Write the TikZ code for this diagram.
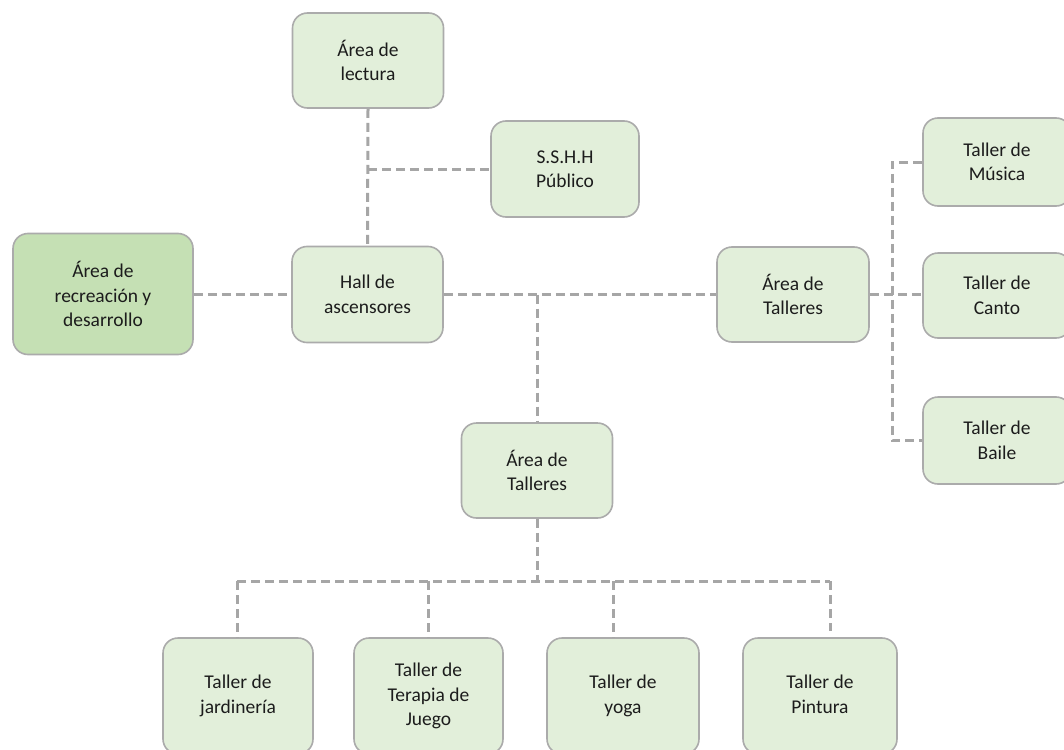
\documentclass[tikz,border=0pt]{standalone}
\usepackage{fontspec}
\setmainfont{Carlito}
\begin{document}
\begin{tikzpicture}[x=1pt,y=-1pt,
  box/.style={draw=boxline,line width=1.6pt,fill=boxfill,rounded corners=15pt,
    inner sep=0pt,align=center,text=txt,
    font=\fontsize{19.5}{24.5}\selectfont},
  hibox/.style={box,fill=boxfilldark},
  link/.style={draw=linkgray,line width=3pt,dash pattern=on 9pt off 5pt}]
\definecolor{boxfill}{HTML}{E2EFDA}
\definecolor{boxfilldark}{HTML}{C5E0B4}
\definecolor{boxline}{HTML}{ABABAB}
\definecolor{linkgray}{HTML}{A6A6A6}
\definecolor{txt}{HTML}{1C1C1C}
\path[use as bounding box,clip] (0,0) rectangle (1064,749);
\fill[white] (0,0) rectangle (1064,749);

% upper part
\node[box,minimum width=151pt,minimum height=95pt] (lectura) at (368,60.5) {Área de\\lectura};
\node[box,minimum width=148pt,minimum height=96pt] (sshh) at (565,169) {S.S.H.H\\Público};
\node[box,minimum width=151pt,minimum height=96pt] (hall) at (367.5,294.5) {Hall de\\ascensores};
\node[hibox,minimum width=180pt,minimum height=121pt] (recre) at (103,294) {Área de\\recreación y\\desarrollo};

% right branch
\node[box,minimum width=152pt,minimum height=95pt] (talR) at (793,294.5) {Área de\\Talleres};
\node[box,minimum width=148pt,minimum height=88pt] (musica) at (997,162) {Taller de\\Música};
\node[box,minimum width=148pt,minimum height=85pt] (canto) at (997,295.5) {Taller de\\Canto};
\node[box,minimum width=148pt,minimum height=87pt] (baile) at (997,440.5) {Taller de\\Baile};

% lower branch
\node[box,minimum width=151pt,minimum height=95pt] (talC) at (537,470.5) {Área de\\Talleres};
\node[box,minimum width=150pt,minimum height=116pt] (jard) at (238,696) {Taller de\\jardinería};
\node[box,minimum width=149pt,minimum height=116pt] (terapia) at (428.5,696) {Taller de\\Terapia de\\Juego};
\node[box,minimum width=152pt,minimum height=116pt] (yoga) at (623,696) {Taller de\\yoga};
\node[box,minimum width=154pt,minimum height=116pt] (pintura) at (820,696) {Taller de\\Pintura\vphantom{y}};

% junction points
\coordinate (jl) at (lectura.south |- sshh.west);
\coordinate (jc) at (talC.north |- hall.east);
\coordinate (rx) at (892,0);
\coordinate (bus) at (talC.south |- 0,581);
\coordinate (b1) at (237,581);
\coordinate (b2) at (428,581);
\coordinate (b3) at (613,581);
\coordinate (b4) at (830,581);

% connectors
\draw[link] (lectura.south) -- (hall.north);
\draw[link] (jl) -- (sshh.west);
\draw[link] (recre.east |- hall.west) -- (hall.west);
\draw[link] (hall.east) -- (talR.west);
\draw[link] (jc) -- (talC.north);
\draw[link] (talR.east) -- (talR.east -| canto.west);
\draw[link] (musica.west) -- (rx |- musica.west) -- (rx |- baile.west) -- (baile.west);
\draw[link] (talC.south) -- (bus);
\draw[link] (b1) -- (b4);
\draw[link] (b1) -- (b1 |- jard.north);
\draw[link] (b2) -- (b2 |- terapia.north);
\draw[link] (b3) -- (b3 |- yoga.north);
\draw[link] (b4) -- ([yshift=6pt]b4 |- pintura.north);
\end{tikzpicture}
\end{document}
